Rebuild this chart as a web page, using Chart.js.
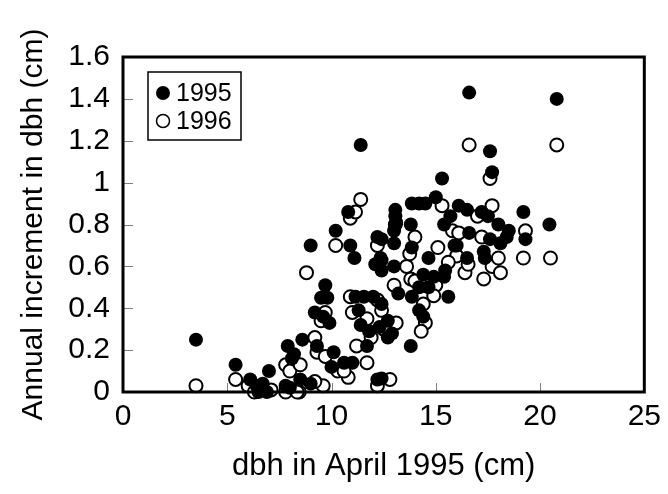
<!DOCTYPE html>
<html>
<head>
<meta charset="utf-8">
<script src="https://cdn.jsdelivr.net/npm/chart.js@4/dist/chart.umd.min.js"></script>
<style>
  html, body { margin: 0; padding: 0; background: #fff; }
  #wrap { width: 668px; height: 494px; }
</style>
</head>
<body>
<div id="wrap"><canvas id="c" width="668" height="494"></canvas></div>
<script>
// ---- data ----
const seriesNames = ['1995', '1996'];
const dbh1995 = [3.5, 5.4, 6.1, 6.4, 6.6, 6.9, 7.0, 6.7, 7.8, 7.9, 8.1, 8.5, 8.6, 8.2, 9.0, 9.0, 9.2, 9.3, 9.5, 9.6,
  9.7, 9.8, 9.9, 10.1, 10.2, 10.6, 10.8, 10.9, 11.0, 11.1, 11.15, 11.4, 11.3, 11.4, 11.55, 11.8, 11.7, 12.0, 12.1, 12.2,
  12.2, 12.3, 12.35, 12.4, 12.4, 12.4, 12.4, 12.7, 12.7, 12.9, 13.0, 13.0, 13.0, 13.06, 13.06, 13.1, 13.2, 13.8, 13.85, 13.85,
  13.85, 13.8, 14.2, 14.2, 14.2, 14.4, 14.4, 14.5, 14.65, 14.65, 14.9, 15.0, 15.3, 15.4, 15.4, 15.6, 15.45, 15.7, 15.9, 16.0,
  16.1, 16.5, 16.6, 16.6, 16.5, 17.2, 17.3, 17.35, 17.5, 17.6, 17.7, 17.6, 18.0, 18.1, 18.4, 18.5, 19.2, 19.3, 20.45, 20.8,
  12.4, 6.5, 8.0, 10.0];
const inc1995 = [0.25, 0.13, 0.06, 0.03, 0.01, 0.0, 0.10, 0.04, 0.03, 0.22, 0.16, 0.06, 0.25, 0.18, 0.70, 0.04, 0.38, 0.22, 0.45, 0.36,
  0.51, 0.45, 0.33, 0.19, 0.77, 0.14, 0.86, 0.70, 0.14, 0.64, 0.455, 1.18, 0.39, 0.32, 0.455, 0.29, 0.22, 0.455, 0.61, 0.74,
  0.06, 0.31, 0.64, 0.58, 0.73, 0.63, 0.42, 0.26, 0.34, 0.28, 0.77, 0.71, 0.60, 0.87, 0.84, 0.81, 0.47, 0.80, 0.90, 0.69,
  0.455, 0.22, 0.90, 0.50, 0.39, 0.56, 0.36, 0.90, 0.64, 0.50, 0.55, 0.93, 1.02, 0.80, 0.55, 0.455, 0.58, 0.84, 0.70, 0.70,
  0.89, 0.87, 1.43, 0.76, 0.64, 0.86, 0.67, 0.64, 0.84, 1.15, 1.05, 0.73, 0.80, 0.71, 0.74, 0.77, 0.86, 0.73, 0.80, 1.40,
  0.065, 0.0, 0.02, 0.12];
const dbh1996 = [3.5, 5.4, 6.0, 7.1, 7.8, 7.8, 8.0, 8.45, 8.5, 8.35, 8.8, 9.2, 9.3, 9.5, 9.6, 9.7, 9.7, 10.2, 10.3, 10.8,
  10.9, 10.9, 11.0, 11.15, 11.2, 11.4, 11.7, 11.7, 11.9, 12.2, 12.2, 12.5, 12.8, 13.06, 13.0, 13.1, 13.6, 13.8, 13.75, 14.0,
  14.4, 14.5, 14.3, 15.0, 15.1, 15.3, 15.8, 16.0, 16.1, 16.4, 16.55, 16.6, 17.0, 17.2, 17.3, 17.6, 17.7, 17.7, 18.0, 18.1,
  19.2, 19.3, 20.5, 20.8, 12.4, 9.2, 10.6, 6.3, 14.0, 15.6, 14.9, 12.2];
const inc1996 = [0.03, 0.06, 0.03, 0.01, 0.0, 0.13, 0.10, 0.0, 0.13, 0.0, 0.57, 0.26, 0.19, 0.34, 0.03, 0.38, 0.17, 0.70, 0.10, 0.07,
  0.83, 0.455, 0.38, 0.86, 0.22, 0.92, 0.35, 0.14, 0.26, 0.70, 0.03, 0.30, 0.06, 0.80, 0.51, 0.33, 0.60, 0.54, 0.66, 0.74,
  0.42, 0.33, 0.29, 0.51, 0.69, 0.89, 0.77, 0.65, 0.76, 0.57, 0.61, 1.18, 0.84, 0.74, 0.54, 1.02, 0.89, 0.60, 0.64, 0.57,
  0.64, 0.77, 0.64, 1.18, 0.39, 0.05, 0.10, 0.0, 0.53, 0.62, 0.46, 0.44];
const xTickLabels = ['0', '5', '10', '15', '20', '25'];
const yTickLabels = ['0', '0.2', '0.4', '0.6', '0.8', '1', '1.2', '1.4', '1.6'];
const xTitle = 'dbh in April 1995 (cm)';
const yTitle = 'Annual increment in dbh (cm)';

const toPoints = (xs, ys) => xs.map((x, i) => ({ x: x, y: ys[i] }));

const FONT = '"Liberation Sans", Arial, sans-serif';

const framePlugin = {
  id: 'frameAndTicks',
  afterDatasetsDraw(chart) {
    const ctx = chart.ctx;
    const a = chart.chartArea;
    const xs = chart.scales.x, ys = chart.scales.y;
    ctx.save();
    ctx.strokeStyle = '#808080';
    ctx.lineWidth = 1;
    xs.ticks.forEach((t, i) => {
      const px = Math.round(xs.getPixelForTick(i)) + 0.5;
      ctx.beginPath(); ctx.moveTo(px, a.bottom); ctx.lineTo(px, a.bottom - 9); ctx.stroke();
    });
    ys.ticks.forEach((t, i) => {
      const py = Math.round(ys.getPixelForTick(i)) + 0.5;
      ctx.beginPath(); ctx.moveTo(a.left, py); ctx.lineTo(a.left + 10, py); ctx.stroke();
    });
    ctx.strokeStyle = '#000';
    ctx.lineWidth = 3;
    ctx.strokeRect(a.left, a.top, a.right - a.left, a.bottom - a.top);
    ctx.restore();
  },
  afterDraw(chart) {
    const ctx = chart.ctx;
    const a = chart.chartArea;
    const bx = a.left + 25, by = a.top + 15, bw = 93, bh = 68;
    ctx.save();
    ctx.fillStyle = '#fff';
    ctx.fillRect(bx, by, bw, bh);
    ctx.strokeStyle = '#000';
    ctx.lineWidth = 1.5;
    ctx.strokeRect(bx, by, bw, bh);
    ctx.font = '25px ' + FONT;
    ctx.textBaseline = 'middle';
    ctx.textAlign = 'left';
    chart.data.datasets.forEach((ds, i) => {
      const cy = by + 21 + i * 28;
      const cx = bx + 15;
      ctx.beginPath();
      ctx.arc(cx, cy, ds.pointRadius, 0, Math.PI * 2);
      ctx.fillStyle = ds.pointBackgroundColor;
      ctx.fill();
      if (ds.pointBorderWidth > 0) {
        ctx.lineWidth = 1.5;
        ctx.strokeStyle = ds.pointBorderColor;
        ctx.stroke();
      }
      ctx.fillStyle = '#000';
      ctx.fillText(ds.label, bx + 28, cy + 1);
    });
    ctx.restore();
  }
};

new Chart(document.getElementById('c'), {
  type: 'scatter',
  data: {
    datasets: [
      {
        label: seriesNames[0],
        data: toPoints(dbh1995, inc1995),
        pointRadius: 7,
        pointBackgroundColor: '#000',
        pointBorderColor: '#000',
        pointBorderWidth: 0,
        pointHoverRadius: 7,
        clip: false
      },
      {
        label: seriesNames[1],
        data: toPoints(dbh1996, inc1996),
        pointRadius: 6.5,
        pointBackgroundColor: '#fff',
        pointBorderColor: '#000',
        pointBorderWidth: 2,
        pointHoverRadius: 6.5,
        clip: false
      }
    ]
  },
  options: {
    responsive: false,
    animation: false,
    events: [],
    layout: { padding: { left: 0, top: 57, right: 21, bottom: 0 } },
    plugins: { legend: { display: false }, tooltip: { enabled: false } },
    scales: {
      x: {
        type: 'linear',
        min: 0, max: 25,
        afterFit(scale) { scale.height = 102; },
        afterBuildTicks(scale) { scale.ticks = xTickLabels.map(v => ({ value: Number(v) })); },
        grid: { display: false, drawTicks: false },
        border: { display: false },
        ticks: {
          padding: 7,
          color: '#000',
          font: { family: FONT, size: 30 },
          callback: (v, i) => xTickLabels[i]
        },
        title: {
          display: true, text: xTitle, color: '#000',
          font: { family: FONT, size: 31 },
          padding: { top: 0, bottom: 9 }
        }
      },
      y: {
        type: 'linear',
        min: 0, max: 1.6,
        afterFit(scale) { scale.width = 123; },
        afterBuildTicks(scale) { scale.ticks = yTickLabels.map(v => ({ value: Number(v) })); },
        grid: { display: false, drawTicks: false },
        border: { display: false },
        ticks: {
          padding: 13,
          color: '#000',
          font: { family: FONT, size: 30 },
          callback: (v, i) => yTickLabels[i]
        },
        title: {
          display: true, text: yTitle, color: '#000',
          font: { family: FONT, size: 30 },
          padding: { top: 16, bottom: 0 }
        }
      }
    }
  },
  plugins: [framePlugin]
});
</script>
</body>
</html>
